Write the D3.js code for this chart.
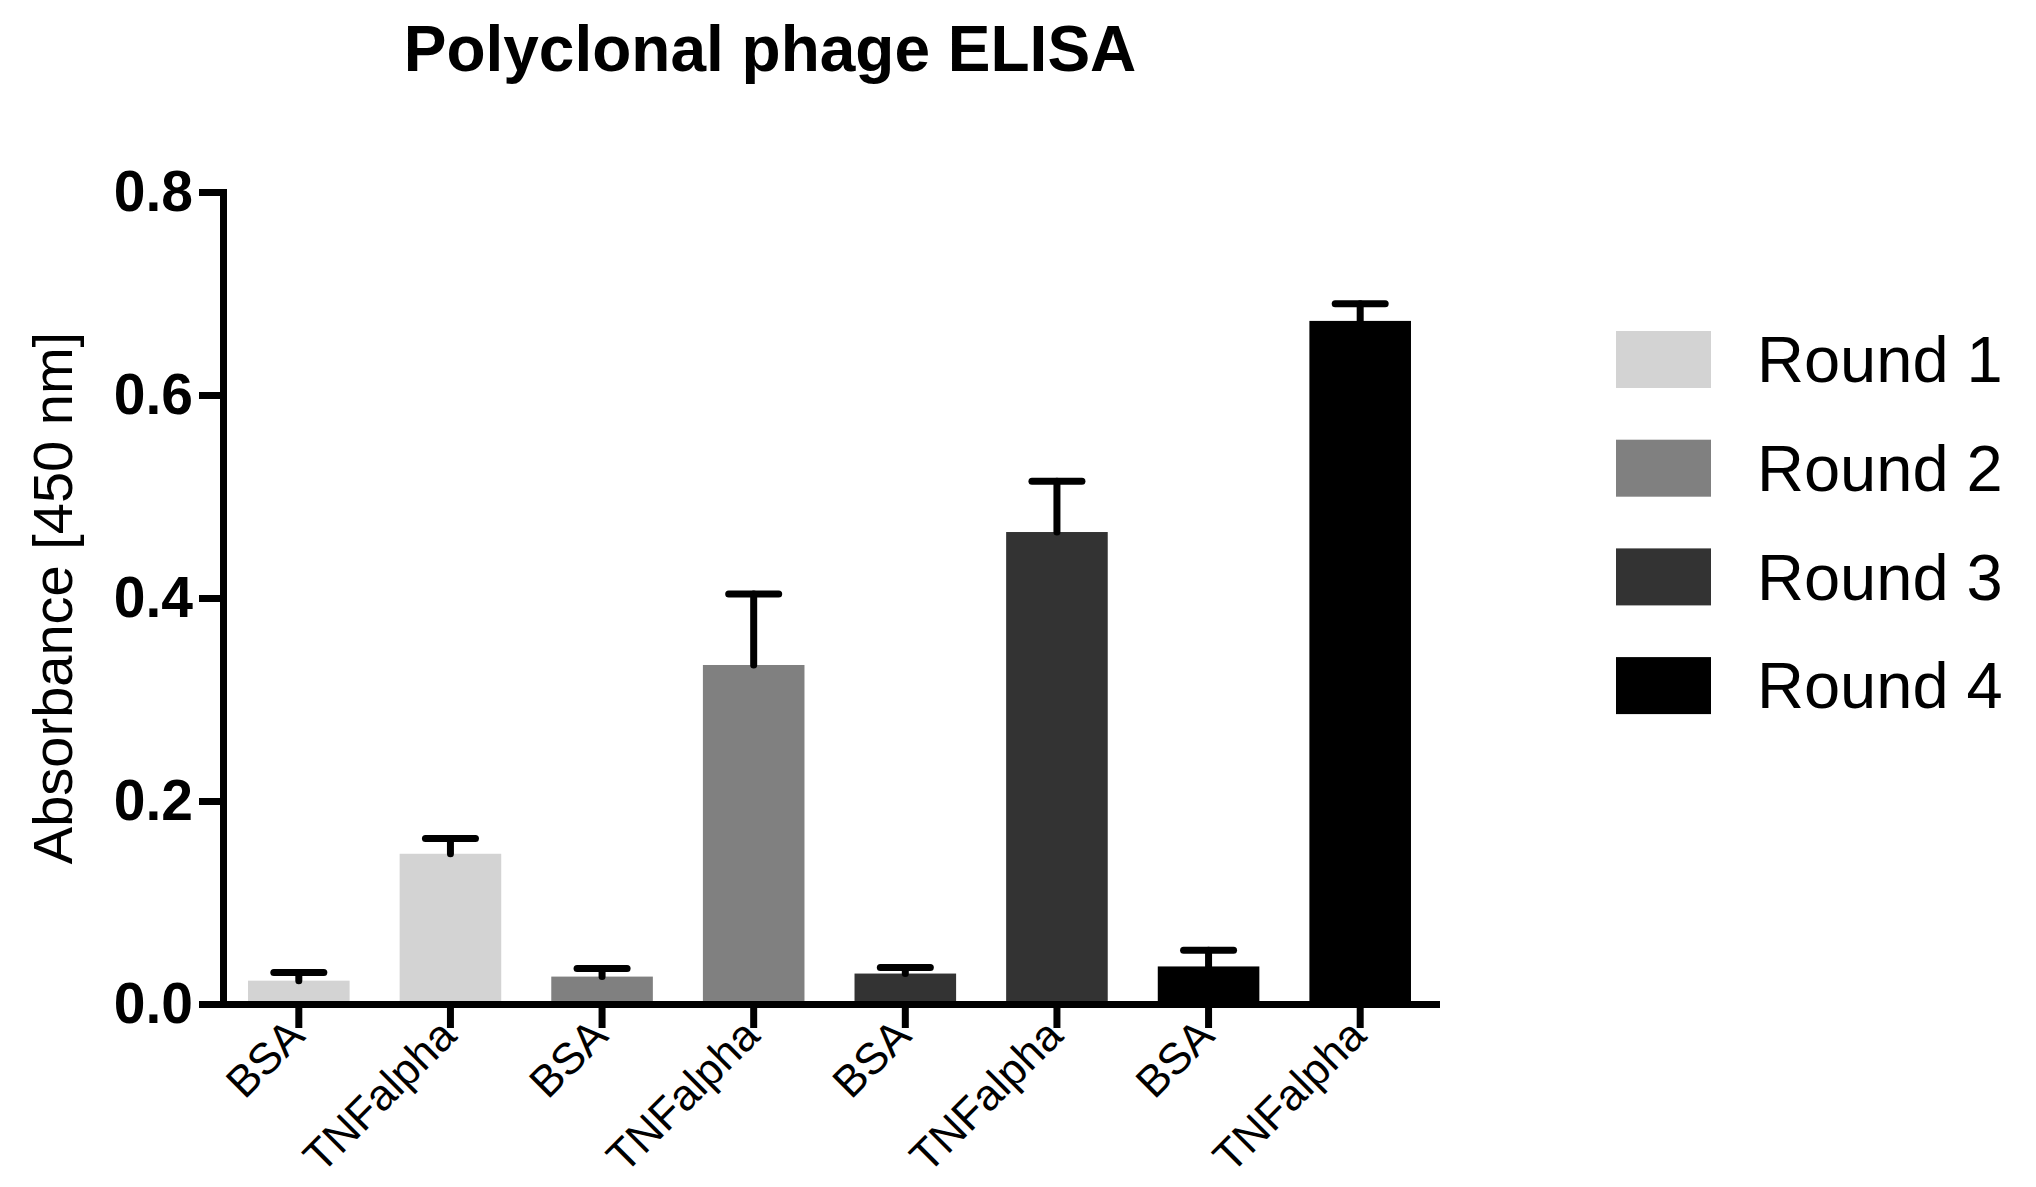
<!DOCTYPE html>
<html>
<head>
<meta charset="utf-8">
<script src="https://cdn.jsdelivr.net/npm/d3@7"></script>
<style>
  body { margin: 0; background: #fff; }
  svg { display: block; font-family: "Liberation Sans", Arial, sans-serif; }
</style>
</head>
<body>
<div id="chart-area"></div>
<script>
// values
const rounds = ["Round 1", "Round 2", "Round 3", "Round 4"];
const targets = ["BSA", "TNFalpha"];
const bsaMean = [0.023, 0.027, 0.030, 0.037];
const bsaErr = [0.008, 0.008, 0.006, 0.016];
const tnfMean = [0.148, 0.334, 0.465, 0.673];
const tnfErr = [0.015, 0.070, 0.050, 0.017];
const roundColors = ["#d3d3d3", "#808080", "#333333", "#000000"];
const yTicks = [0, 0.2, 0.4, 0.6, 0.8];

const W = 2036, H = 1187;
const plotLeft = 223, plotRight = 1436, plotTop = 192, plotBottom = 1004;

const rows = [];
rounds.forEach((r, i) => {
	rows.push({ key: i + "-BSA", label: targets[0], round: i, mean: bsaMean[i], err: bsaErr[i] });
	rows.push({ key: i + "-TNF", label: targets[1], round: i, mean: tnfMean[i], err: tnfErr[i] });
});

const svg = d3.select("#chart-area").append("svg")
	.attr("width", W)
	.attr("height", H);

const x = d3.scaleBand()
	.domain(rows.map(d => d.key))
	.range([plotLeft, plotRight])
	.paddingInner(0.33)
	.paddingOuter(0.165);

const y = d3.scaleLinear().domain([0, 0.8]).range([plotBottom, plotTop]);

// title
svg.append("text")
	.attr("x", 770)
	.attr("y", 71)
	.attr("text-anchor", "middle")
	.attr("font-size", "64px")
	.attr("font-weight", "bold")
	.text("Polyclonal phage ELISA");

// y-axis label
svg.append("text")
	.attr("transform", `translate(72, ${(plotTop + plotBottom) / 2}) rotate(-90)`)
	.attr("text-anchor", "middle")
	.attr("font-size", "56px")
	.text("Absorbance [450 nm]");

// bars
svg.selectAll("rect.bar").data(rows).enter()
	.append("rect")
	.attr("class", "bar")
	.attr("x", d => x(d.key))
	.attr("y", d => y(d.mean))
	.attr("width", x.bandwidth())
	.attr("height", d => y(0) - y(d.mean))
	.attr("fill", d => roundColors[d.round]);

// error bars (upper only)
const eb = svg.selectAll("g.err").data(rows).enter()
	.append("g")
	.attr("class", "err")
	.attr("stroke", "#000")
	.attr("stroke-width", 7)
	.attr("stroke-linecap", "round");
eb.append("line")
	.attr("x1", d => x(d.key) + x.bandwidth() / 2)
	.attr("x2", d => x(d.key) + x.bandwidth() / 2)
	.attr("y1", d => y(d.mean))
	.attr("y2", d => y(d.mean + d.err));
eb.append("line")
	.attr("x1", d => x(d.key) + x.bandwidth() / 2 - 25)
	.attr("x2", d => x(d.key) + x.bandwidth() / 2 + 25)
	.attr("y1", d => y(d.mean + d.err))
	.attr("y2", d => y(d.mean + d.err));

// y axis
const yAxis = svg.append("g")
	.attr("transform", `translate(${plotLeft}, 0)`)
	.call(d3.axisLeft(y).tickValues(yTicks).tickFormat(d3.format(".1f")).tickSize(24).tickSizeOuter(0).tickPadding(6));
yAxis.select(".domain").attr("stroke-width", 7).attr("stroke-linecap", "square");
yAxis.selectAll(".tick line").attr("stroke-width", 7);
yAxis.selectAll(".tick text")
	.attr("font-size", "57px")
	.attr("font-weight", "bold")
	.attr("font-family", "'Liberation Sans', Arial, sans-serif")
	.attr("fill", "#000");

// x axis
const xAxis = svg.append("g")
	.attr("transform", `translate(0, ${plotBottom})`)
	.call(d3.axisBottom(x).tickFormat(k => rows.find(r => r.key === k).label).tickSize(24).tickSizeOuter(0));
xAxis.select(".domain").attr("stroke-width", 7).attr("stroke-linecap", "square");
xAxis.selectAll(".tick line").attr("stroke-width", 7);
xAxis.selectAll(".tick text")
	.attr("x", 0)
	.attr("y", 0)
	.attr("dy", 0)
	.attr("text-anchor", "end")
	.attr("transform", "translate(8, 34) rotate(-45)")
	.attr("font-size", "44px")
	.attr("font-family", "'Liberation Sans', Arial, sans-serif")
	.attr("fill", "#000");

// legend
const legend = svg.selectAll("g.legend").data(rounds).enter()
	.append("g")
	.attr("class", "legend")
	.attr("transform", (d, i) => `translate(1616, ${331 + i * 108.7})`);
legend.append("rect")
	.attr("width", 95)
	.attr("height", 57)
	.attr("fill", (d, i) => roundColors[i]);
legend.append("text")
	.attr("x", 141)
	.attr("y", 28.5)
	.attr("dy", "0.35em")
	.attr("font-size", "65px")
	.text(d => d);
</script>
</body>
</html>
